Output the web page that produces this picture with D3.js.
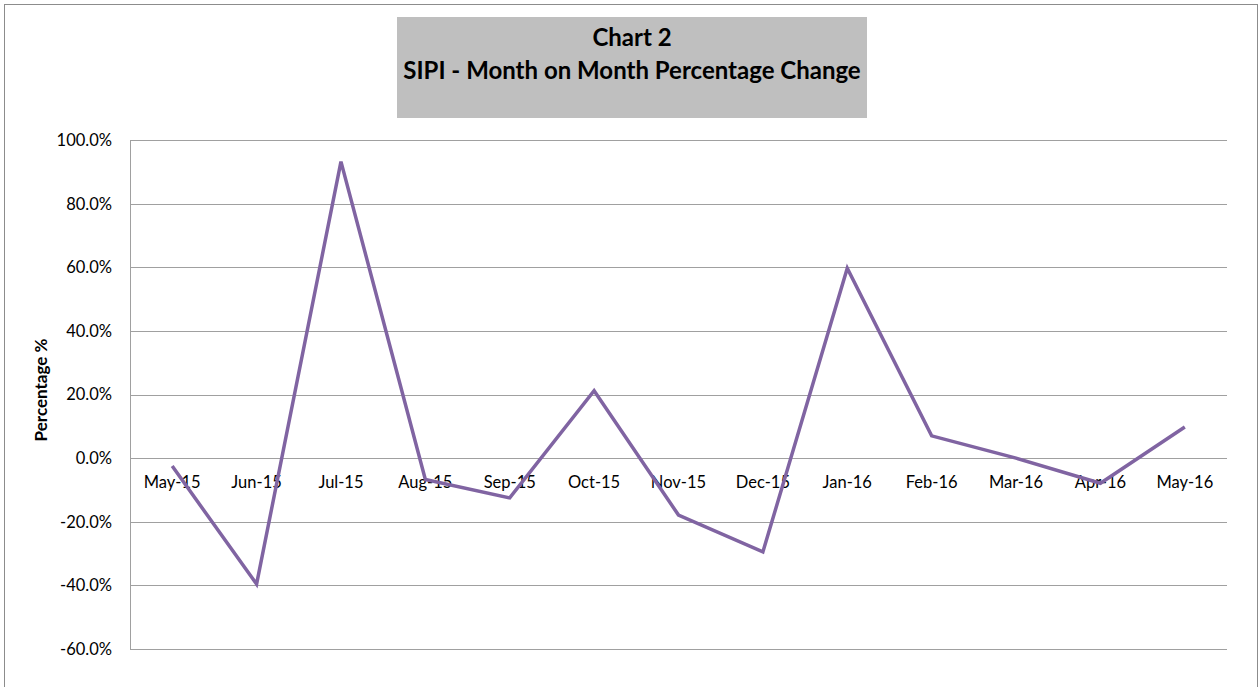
<!DOCTYPE html>
<html>
<head>
<meta charset="utf-8">
<script src="https://cdn.jsdelivr.net/npm/d3@7"></script>
<style>
  html, body { margin: 0; padding: 0; background: #fff; }
  svg { display: block; }
  text { font-family: Lato, "Open Sans", sans-serif; fill: #000; }
</style>
</head>
<body>
<svg id="chart" width="1260" height="687"></svg>
<script>
const categories = ["May-15","Jun-15","Jul-15","Aug-15","Sep-15","Oct-15","Nov-15","Dec-15","Jan-16","Feb-16","Mar-16","Apr-16","May-16"];
const values = [-2.5, -39.6, 93.2, -6.7, -12.5, 21.2, -17.9, -29.5, 59.7, 7.0, 0.0, -7.9, 9.8];
const yTicks = [-60, -40, -20, 0, 20, 40, 60, 80, 100];
const titleLines = ["Chart 2", "SIPI - Month on Month Percentage Change"];
const yAxisTitle = "Percentage %";

const svg = d3.select("#chart");
const plot = { left: 130, right: 1227, top: 140, bottom: 649 };

// outer border
svg.append("rect")
  .attr("x", 4.5).attr("y", 4.5)
  .attr("width", 1253).attr("height", 700)
  .attr("fill", "#fff").attr("stroke", "#8c8c8c").attr("stroke-width", 1);

const x = d3.scaleBand().domain(categories).range([plot.left, plot.right]).padding(0);
const y = d3.scaleLinear().domain([-60, 100]).range([plot.bottom, plot.top]);

// gridlines
svg.append("g").selectAll("line").data(yTicks).join("line")
  .attr("x1", plot.left).attr("x2", plot.right)
  .attr("y1", d => Math.round(y(d)) + 0.5).attr("y2", d => Math.round(y(d)) + 0.5)
  .attr("stroke", "#a0a0a0").attr("stroke-width", 1);

// vertical axis line
svg.append("line")
  .attr("x1", plot.left + 0.5).attr("x2", plot.left + 0.5)
  .attr("y1", plot.top).attr("y2", plot.bottom + 0.5)
  .attr("stroke", "#a0a0a0");

// y tick labels
svg.append("g").selectAll("text").data(yTicks).join("text")
  .attr("x", 112).attr("y", d => y(d))
  .attr("dy", "0.36em")
  .attr("text-anchor", "end")
  .attr("font-size", 16.5)
  .text(d => d.toFixed(1) + "%");

// category labels just below zero line
svg.append("g").selectAll("text").data(categories).join("text")
  .attr("x", d => x(d) + x.bandwidth() / 2)
  .attr("y", y(0) + 30)
  .attr("text-anchor", "middle")
  .attr("font-size", 16.5)
  .text(d => d);

// y axis title
svg.append("text")
  .attr("transform", `translate(47, 390) rotate(-90)`)
  .attr("text-anchor", "middle")
  .attr("font-size", 17)
  .attr("font-weight", "bold")
  .text(yAxisTitle);

// line
const line = d3.line()
  .x((d, i) => x(categories[i]) + x.bandwidth() / 2)
  .y(d => y(d));
svg.append("path")
  .datum(values)
  .attr("d", line)
  .attr("fill", "none")
  .attr("stroke", "#8064a2")
  .attr("stroke-width", 3.5)
  .attr("stroke-linejoin", "miter");

// title box
svg.append("rect")
  .attr("x", 397).attr("y", 17)
  .attr("width", 470).attr("height", 101)
  .attr("fill", "#bfbfbf");
svg.append("g").selectAll("text").data(titleLines).join("text")
  .attr("x", 632)
  .attr("y", (d, i) => 46 + i * 33)
  .attr("text-anchor", "middle")
  .attr("font-size", 24)
  .attr("font-weight", "bold")
  .text(d => d);
</script>
</body>
</html>
